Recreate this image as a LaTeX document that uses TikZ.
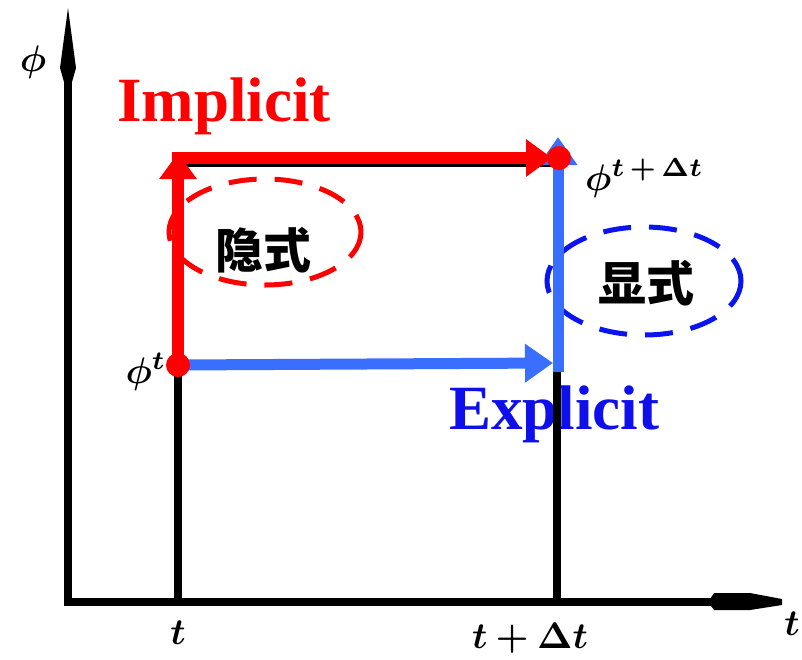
\documentclass[tikz,border=0pt]{standalone}
\usepackage{fontspec}
\usepackage{amsmath,bm,graphicx}
\setmainfont{Liberation Serif}
\newfontfamily\cjk{Noto Sans CJK SC}
\usetikzlibrary{arrows.meta}
\definecolor{redc}{RGB}{255,0,0}
\definecolor{arrowblue}{RGB}{58,110,255}
\definecolor{textblue}{RGB}{15,15,235}
\definecolor{ellblue}{RGB}{10,20,240}
\newcommand{\mylblmath}[1]{\scalebox{3.7}{$\boldsymbol{#1}$}}
\tikzset{
  axisline/.style={line width=8pt},
  guideline/.style={line width=7pt},
  redarrow/.style={redc, line width=12pt, -{Triangle[length=26pt,width=36pt]}},
  bluearrow/.style={arrowblue, line width=11pt, -{Triangle[length=28pt,width=37pt]}},
  dot/.style={circle, fill=redc, inner sep=0pt, minimum size=24pt},
  dashell/.style={line width=5pt, dash pattern=on 28pt off 18pt},
  mathlbl/.style={inner sep=0pt, font=\fontsize{10}{12}\selectfont},
  cjklbl/.style={inner sep=0pt, font=\cjk\bfseries\fontsize{48}{50}\selectfont},
  bigword/.style={inner sep=0pt, font=\bfseries\fontsize{63}{65}\selectfont}
}
\begin{document}
\begin{tikzpicture}[x=1pt,y=-1pt]
\useasboundingbox (0,0) rectangle (802,659);
\clip (0,0) rectangle (802,659);
\fill[white] (0,0) rectangle (802,659);
% named points
\coordinate (O) at (68,602);
\coordinate (Ytop) at (68,80);
\coordinate (Xend) at (712,602);
\coordinate (T0) at (178,602);
\coordinate (T1) at (557,602);
\coordinate (P) at (178,365);
\coordinate (Q) at (557,163);
\coordinate (Ptop) at (178,163);
% texts
\node[bigword, text=redc] (impl) at (224,106) {Implicit};
\node[bigword, text=textblue] (expl) at (554,414) {Explicit};
\node[mathlbl] (phiy) at (33,62) {\mylblmath{\phi}};
\node[mathlbl] (phit) at (146,372) {\mylblmath{\phi^{t}}};
\node[mathlbl, anchor=west] (phitdt) at (585,178) {\mylblmath{\phi^{t\,+\,\Delta t}}};
\node[mathlbl] (tlbl) at (178,633) {\mylblmath{t}};
\node[mathlbl] (tdtlbl) at (530,638) {\mylblmath{t+\Delta t}};
\node[mathlbl] (tax) at (792,624) {\mylblmath{t}};
% black axes and guide lines
\draw[axisline] (O) -- (Ytop);
\fill (68,8) -- (76,68) -- (72,82) -- (64,82) -- (60,68) -- cycle;
\draw[axisline] (64,602) -- (Xend);
\fill (708,602) -- (714,593) -- (750,593) -- (782,599) -- (782,605) -- (750,610) -- (714,610) -- cycle;
\draw[axisline] (T0) -- (P);
\draw[axisline] (T1) -- (Q);
\draw[guideline] (Ptop) -- (Q);
% ellipses and CJK labels
\draw[dashell, redc] (265,232) ellipse [x radius=96, y radius=53];
\draw[dashell, ellblue] (644,281) ellipse [x radius=97, y radius=54];
\node[cjklbl] (yin) at (263,250) {隐式};
\node[cjklbl] (xian) at (646,283) {显式};
% explicit path (blue)
\draw[bluearrow] (P) -- (553,363);
\draw[bluearrow] (558,372) -- (558,137);
% implicit path (red)
\draw[redarrow] (P) -- (178,153);
\draw[redarrow] (172,158) -- (552,158);
\node[dot] (d1) at (P) {};
\node[dot] (d2) at (559,158) {};
\end{tikzpicture}
\end{document}
